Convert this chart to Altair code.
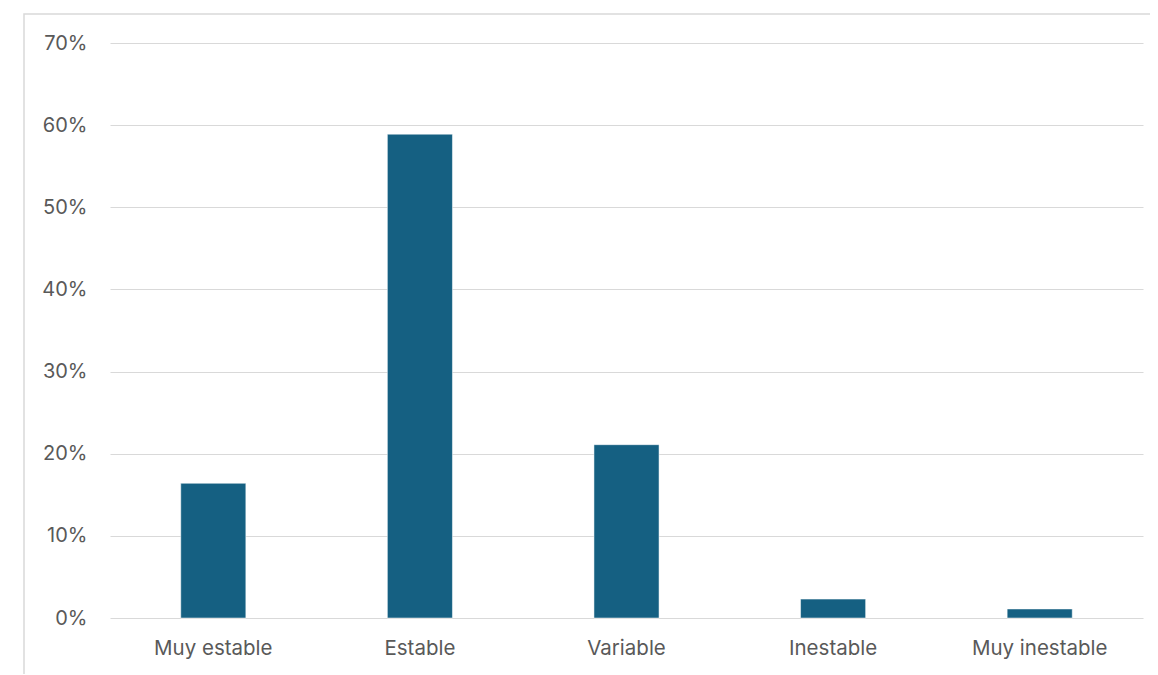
import altair as alt
import pandas as pd

categories = ["Muy estable", "Estable", "Variable", "Inestable", "Muy inestable"]
values = [0.164, 0.589, 0.211, 0.023, 0.011]

df = pd.DataFrame({"cat": categories, "val": values})

W, H = 1033, 575
FONT = "Inter"
GREY = "#595959"

bars = alt.Chart(df).mark_bar(color="#156082", stroke="#ffffff", strokeWidth=0.5).encode(
    x=alt.X("cat:N", sort=categories, title=None,
            scale=alt.Scale(paddingInner=0.685, paddingOuter=0.3425),
            axis=alt.Axis(labelAngle=0, labelFontSize=20.5, labelColor=GREY, labelFont=FONT,
                          labelPadding=20, ticks=False, domain=False, grid=False)),
    y=alt.Y("val:Q", title=None,
            scale=alt.Scale(domain=[0, 0.7]),
            axis=alt.Axis(format=".0%", values=[0, 0.1, 0.2, 0.3, 0.4, 0.5, 0.6, 0.7],
                          labelFontSize=20, labelColor=GREY, labelFont=FONT,
                          labelPadding=23, ticks=False, domain=False,
                          grid=True, gridColor="#d9d9d9", gridWidth=1.2)),
)

border = alt.Chart(pd.DataFrame({"a": [0]})).mark_rect(
    fill=None, stroke="#d9d9d9", strokeWidth=1.5, clip=False
).encode(
    x=alt.value(-86), x2=alt.value(W + 40),
    y=alt.value(-29), y2=alt.value(H + 90),
)

chart = alt.layer(border, bars).properties(
    width=W, height=H,
    autosize=alt.AutoSizeParams(type="none"),
    padding={"left": 102, "top": 35, "right": 7, "bottom": 56},
).configure(background="#ffffff").configure_view(stroke=None)

chart.save("out.html", embed_options={"renderer": "svg", "actions": False})
